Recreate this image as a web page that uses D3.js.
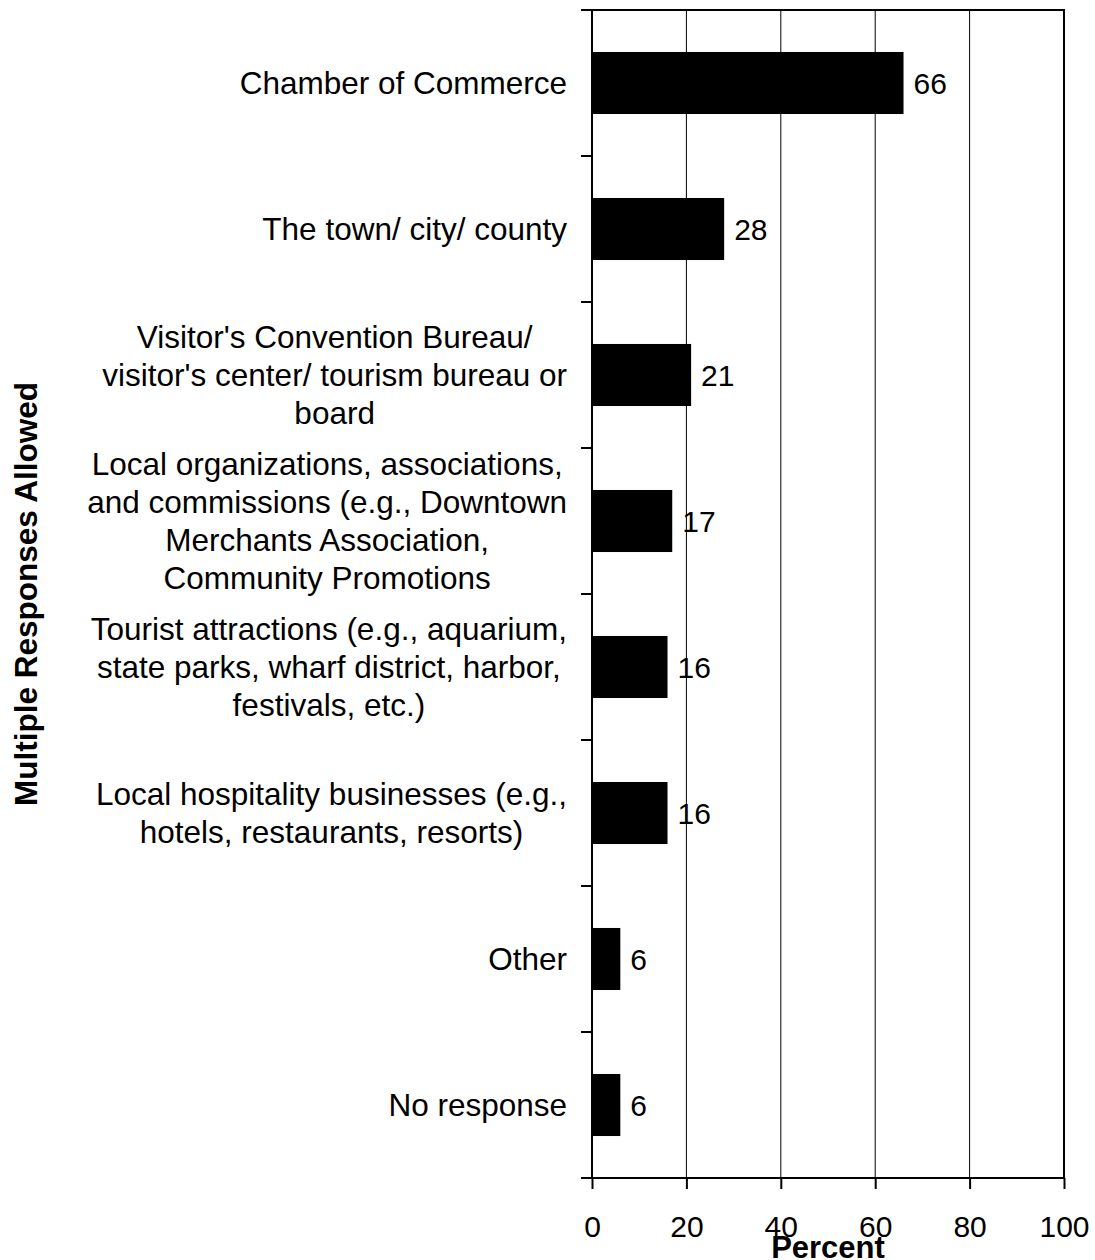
<!DOCTYPE html>
<html>
<head>
<meta charset="utf-8">
<script src="https://cdn.jsdelivr.net/npm/d3@7"></script>
<style>
  body { margin: 0; background: #fff; }
  text { font-family: "Liberation Sans", Arial, sans-serif; fill: #000; }
</style>
</head>
<body>
<div id="chart"></div>
<script>
// categories, one entry per bar (lines are the wrapped label text)
var categories = [
    ["Chamber of Commerce"],
    ["The town/ city/ county"],
    ["Visitor's Convention Bureau/", "visitor's center/ tourism bureau or", "board"],
    ["Local organizations, associations,", "and commissions (e.g., Downtown", "Merchants Association,", "Community Promotions"],
    ["Tourist attractions (e.g., aquarium,", "state parks, wharf district, harbor,", "festivals, etc.)"],
    ["Local hospitality businesses (e.g.,", "hotels, restaurants, resorts)"],
    ["Other"],
    ["No response"]
];
var percents = [66, 28, 21, 17, 16, 16, 6, 6];
var xTicks = [0, 20, 40, 60, 80, 100];

var width = 1095,
    height = 1260,
    margin = { top: 10, right: 31, bottom: 82, left: 592 },
    catFont = 31.5,
    numFont = 30,
    lineHeight = 38;

var svg = d3.select("#chart").append("svg")
    .attr("width", width)
    .attr("height", height);

var x = d3.scaleLinear()
    .domain([0, 100])
    .range([margin.left, width - margin.right]);

var y = d3.scaleBand()
    .domain(d3.range(categories.length))
    .range([margin.top, height - margin.bottom])
    .paddingInner(0.575)
    .paddingOuter(0.2875);

var yOuter = d3.scaleBand()
    .domain(d3.range(categories.length))
    .range([margin.top, height - margin.bottom]);

var plotTop = margin.top, plotBottom = height - margin.bottom;

// vertical grid lines
svg.append("g").selectAll("line")
    .data(xTicks.slice(1, -1))
    .enter().append("line")
    .attr("x1", function (d) { return x(d); })
    .attr("x2", function (d) { return x(d); })
    .attr("y1", plotTop)
    .attr("y2", plotBottom)
    .attr("stroke", "black")
    .attr("stroke-width", 1);

// top and right border
svg.append("path")
    .attr("d", "M" + x(0) + "," + plotTop + "H" + x(100) + "V" + plotBottom)
    .attr("fill", "none")
    .attr("stroke", "black")
    .attr("stroke-width", 2);

// bars
svg.append("g").selectAll("rect")
    .data(percents)
    .enter().append("rect")
    .attr("x", x(0))
    .attr("y", function (d, i) { return y(i); })
    .attr("width", function (d) { return x(d) - x(0); })
    .attr("height", y.bandwidth())
    .attr("fill", "black");

// value labels
svg.append("g").selectAll("text")
    .data(percents)
    .enter().append("text")
    .attr("x", function (d) { return x(d) + 10; })
    .attr("y", function (d, i) { return y(i) + y.bandwidth() / 2; })
    .attr("dy", "0.36em")
    .attr("font-size", numFont)
    .text(function (d) { return d; });

// y axis: line with ticks at category boundaries
svg.append("line")
    .attr("x1", x(0)).attr("x2", x(0))
    .attr("y1", plotTop).attr("y2", plotBottom)
    .attr("stroke", "black").attr("stroke-width", 2);

var bounds = d3.range(categories.length + 1).map(function (i) {
    return i < categories.length ? yOuter(i) : plotBottom;
});
svg.append("g").selectAll("line")
    .data(bounds)
    .enter().append("line")
    .attr("x1", x(0) - 11).attr("x2", x(0))
    .attr("y1", function (d) { return d; })
    .attr("y2", function (d) { return d; })
    .attr("stroke", "black").attr("stroke-width", 2);

// x axis
var xAxis = d3.axisBottom(x)
    .tickValues(xTicks)
    .tickSize(11)
    .tickPadding(27)
    .tickFormat(d3.format("d"));

var gx = svg.append("g")
    .attr("transform", "translate(0," + plotBottom + ")")
    .call(xAxis);
gx.select(".domain")
    .attr("d", "M" + (x(0) - 11) + ",0H" + x(100))
    .attr("stroke-width", 2);
gx.selectAll(".tick line").attr("stroke-width", 2);
gx.selectAll(".tick text")
    .attr("font-size", numFont)
    .attr("font-family", "Liberation Sans, Arial, sans-serif");

// category labels: block centred on its widest line, right edge near the axis
var labelRight = x(0) - 25;
categories.forEach(function (lines, i) {
    var g = svg.append("g");
    var cy = yOuter(i) + yOuter.bandwidth() / 2;
    var t = g.selectAll("text")
        .data(lines)
        .enter().append("text")
        .attr("font-size", catFont)
        .attr("text-anchor", "middle")
        .attr("dy", "0.36em")
        .attr("y", function (d, j) { return cy + (j - (lines.length - 1) / 2) * lineHeight; })
        .text(function (d) { return d; });
    var maxW = d3.max(t.nodes(), function (n) { return n.getComputedTextLength(); });
    t.attr("x", labelRight - maxW / 2);
});

// axis titles
svg.append("text")
    .attr("x", (x(0) + x(100)) / 2)
    .attr("y", 1258)
    .attr("text-anchor", "middle")
    .attr("font-size", 31)
    .attr("font-weight", "bold")
    .text("Percent");

svg.append("text")
    .attr("transform", "translate(37," + ((plotTop + plotBottom) / 2) + ") rotate(-90)")
    .attr("text-anchor", "middle")
    .attr("font-size", 31.5)
    .attr("font-weight", "bold")
    .text("Multiple Responses Allowed");
</script>
</body>
</html>
